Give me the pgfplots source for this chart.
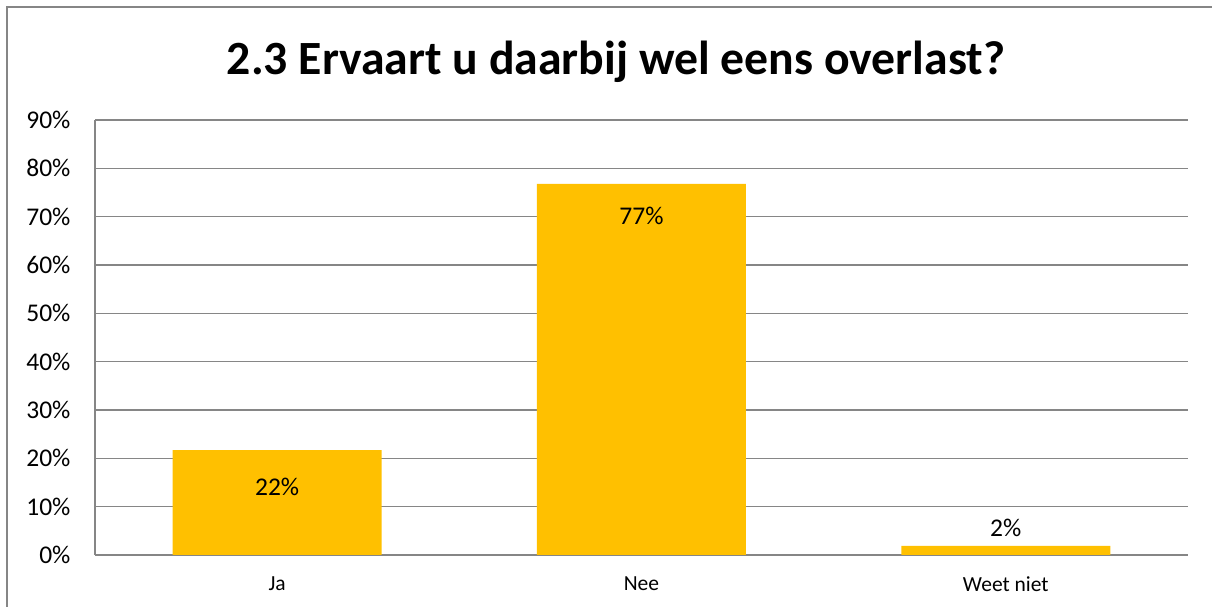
\documentclass[border=0pt]{standalone}
\usepackage{pgfplots}
\pgfplotsset{compat=1.18}
\usepackage{fontspec}
\setmainfont{Carlito}
\definecolor{barc}{HTML}{FFC000}
\definecolor{gridc}{HTML}{868686}
\begin{document}
\begin{tikzpicture}[x=1pt,y=1pt]
\path[use as bounding box] (0,0) rectangle (1212,607);
\draw[gridc,line width=2pt] (7,0) -- (7,600) -- (1212,600);
\node[font=\fontsize{47.7}{52}\selectfont\bfseries] at (616,545) {2.3 Ervaart u daarbij wel eens overlast?};
\begin{axis}[
  at={(95pt,52pt)}, anchor=south west,
  scale only axis, width=1093pt, height=435pt,
  ymin=0, ymax=90, xmin=-0.5, xmax=2.5,
  ytick={0,10,...,90},
  yticklabel={\pgfmathprintnumber{\tick}\%},
  xtick={0,1,2}, xticklabels={Ja,Nee,Weet niet},
  major tick length=0pt,
  ymajorgrids, grid style={gridc,line width=1.3pt},
  axis x line*=bottom, axis y line*=left,
  axis line style={gridc,line width=1.3pt},
  /pgf/number format/assume math mode=true,
  yticklabel style={font=\fontsize{25.5}{30}\selectfont, xshift=-21pt},
  xticklabel style={font=\fontsize{21.5}{25}\selectfont, yshift=-18pt},
  clip=false,
]
\addplot[ybar, bar width=209pt, fill=barc, draw=none] coordinates {(0,21.7) (1,76.8) (2,1.9)};
\node[font=\fontsize{25.5}{30}\selectfont] at (axis cs:0,14) {22\%};
\node[font=\fontsize{25.5}{30}\selectfont] at (axis cs:1,70.1) {77\%};
\node[font=\fontsize{25.5}{30}\selectfont] at (axis cs:2,5.6) {2\%};
\end{axis}
\end{tikzpicture}
\end{document}
